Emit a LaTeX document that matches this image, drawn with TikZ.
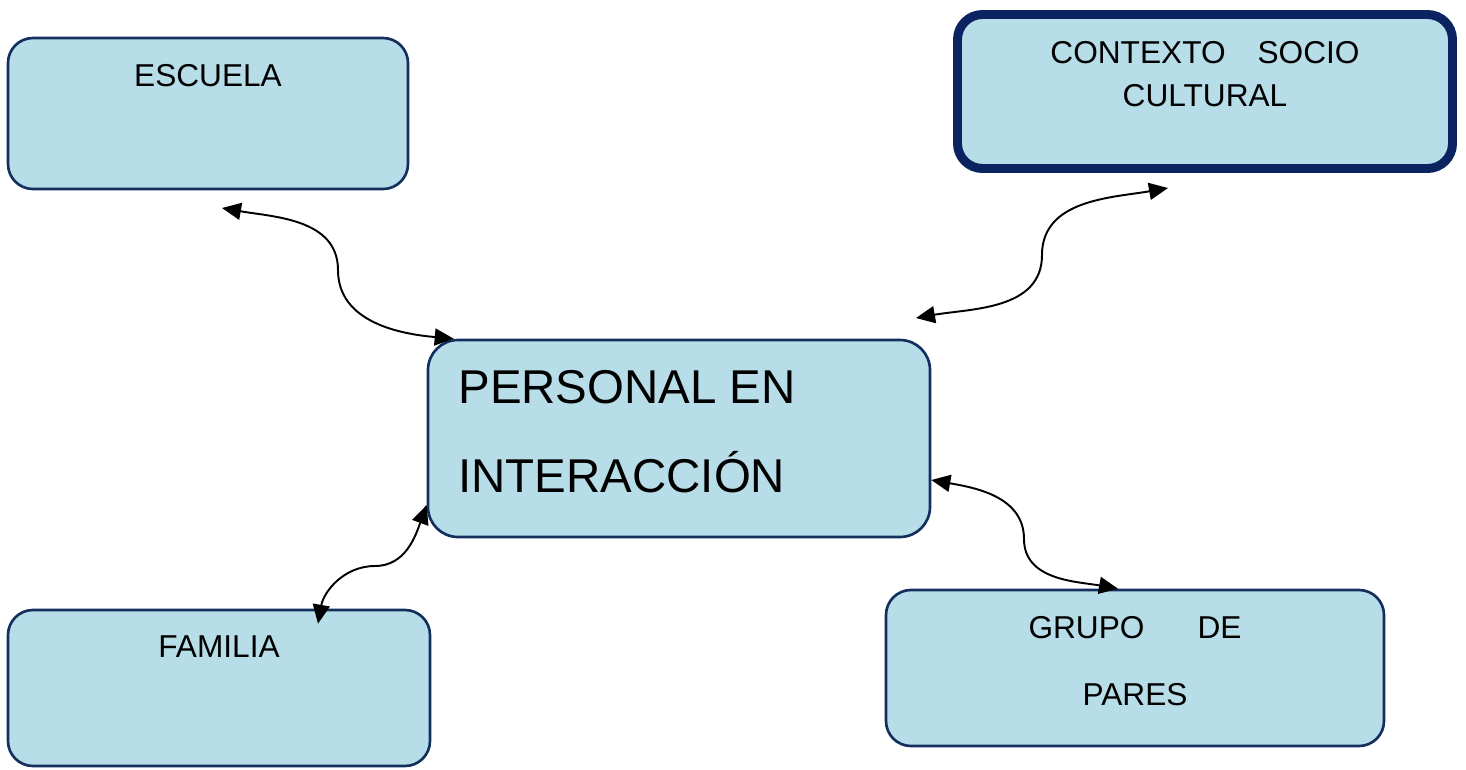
\documentclass[tikz,border=0pt]{standalone}
\usepackage{fontspec}
\setmainfont{Liberation Sans}
\usepackage{tikz}
\usepackage{xcolor}
\usetikzlibrary{positioning,arrows.meta}
\definecolor{celeste}{HTML}{B7DDE8}
\definecolor{marino}{HTML}{132F5E}
\definecolor{marinoosc}{HTML}{0B2361}

\begin{document}
\begin{tikzpicture}[thick,
    caja/.style={draw=marino, fill=celeste, line width=1.5pt, rounded corners=0.5cm},
    texto/.style={inner sep=0pt, align=center, font=\fontsize{18}{24.5}\selectfont},
    flecha/.style={{Triangle[length=0.38cm,width=0.34cm]}-{Triangle[length=0.38cm,width=0.34cm]}, line width=1.1pt}]
    \useasboundingbox (0,0) rectangle (29.32,-15.38);
    % cajas
    \node[caja, minimum width=8cm, minimum height=3.02cm] (E) at (4.16,-2.27) {};
    \node[caja, draw=marinoosc, line width=5.1pt, minimum width=9.9cm, minimum height=3.08cm] (C) at (24.1,-1.83) {};
    \node[caja, minimum width=10.04cm, minimum height=3.94cm, rounded corners=0.6cm] (P) at (13.58,-8.77) {};
    \node[caja, minimum width=8.44cm, minimum height=3.12cm] (F) at (4.38,-13.76) {};
    \node[caja, minimum width=9.96cm, minimum height=3.12cm] (G) at (22.7,-13.36) {};
    % textos
    \node[texto, below=0.54cm of E.north] (Et) {ESCUELA};
    \node[texto, below=0.61cm of C.north] (Ct) {CONTEXTO\hspace{0.64cm}SOCIO\\CULTURAL};
    \node[texto, align=left, font=\fontsize{27}{50.6}\selectfont, below right=0.62cm and 0.62cm of P.north west] (Pt) {PERSONAL EN\\INTERACCIÓN};
    \node[texto, below=0.52cm of F.north] (Ft) {FAMILIA};
    \node[texto, font=\fontsize{18}{38}\selectfont, below=0.54cm of G.north] (Gt) {GRUPO\hspace{1.06cm}DE\\PARES};
    % flechas
    \coordinate (e1) at (4.44,-4.16);
    \coordinate (e2) at (6.76,-5.4);
    \coordinate (c1) at (23.36,-3.76);
    \coordinate (c2) at (20.84,-5.1);
    \coordinate (p2) at (18.32,-6.36);
    \coordinate (f2) at (7.5,-11.32);
    \coordinate (g2) at (20.48,-10.78);
    \draw[flecha] (e1) to[out=-10, in=90] (e2) to[out=-90, in=175] ([xshift=0.54cm]P.north west);
    \draw[flecha] (c1) to[out=190, in=90] (c2) to[out=-90, in=10] (p2);
    \draw[flecha] ([xshift=1.98cm, yshift=-0.3cm]F.north) to[out=80, in=180] (f2) to[out=0, in=-110] ([yshift=-1.33cm]P.west);
    \draw[flecha] ([yshift=-0.83cm]P.east) to[out=-10, in=90] (g2) to[out=-90, in=170] ([xshift=-0.34cm]G.north);
\end{tikzpicture}
\end{document}
